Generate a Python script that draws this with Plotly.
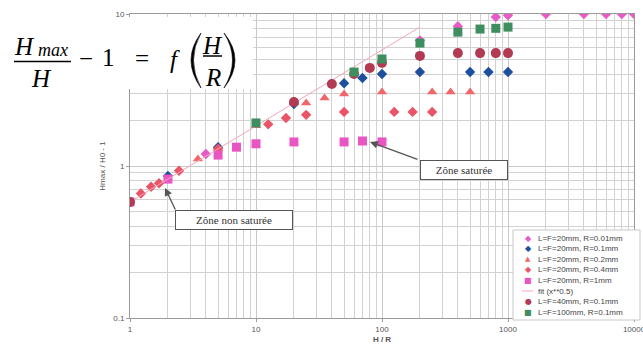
import plotly.graph_objects as go

# ---------------- data ----------------
names = ["L=F=20mm, R=0.01mm", "L=F=20mm, R=0.1mm", "L=F=20mm, R=0.2mm",
         "L=F=20mm, R=0.4mm", "L=F=20mm, R=1mm", "fit (x**0.5)",
         "L=F=40mm, R=0.1mm", "L=F=100mm, R=0.1mm"]

x_r001 = [4, 200, 400, 800, 1000, 2000, 4000, 6000, 8000, 10000]
y_r001 = [1.2, 6.7, 8.3, 9.55, 9.8, 10, 10, 10, 10, 10]

x_r01 = [2, 5, 20, 50, 70, 100, 200, 500, 700, 1000]
y_r01 = [0.86, 1.33, 2.56, 3.5, 3.79, 4.03, 4.15, 4.15, 4.15, 4.15]

x_r02 = [3.46, 5, 10, 25, 35, 50, 100, 250, 350, 500]
y_r02 = [1.11, 1.3, 1.84, 2.6, 2.8, 2.98, 3.07, 3.07, 3.07, 3.07]

x_r04 = [1.22, 1.47, 1.7, 2.45, 5, 12.5, 17.3, 25, 50, 125, 175, 250]
y_r04 = [0.66, 0.73, 0.77, 0.93, 1.3, 1.88, 2.07, 2.17, 2.27, 2.27, 2.27, 2.27]

x_r1 = [1, 2, 5, 7, 10, 20, 50, 70, 100]
y_r1 = [0.58, 0.82, 1.18, 1.33, 1.40, 1.44, 1.44, 1.46, 1.44]

x_fit = [1, 200]
y_fit = [0.58, 8.2]

x_l40 = [1, 20, 40, 60, 80, 100, 200, 400, 600, 800, 1000]
y_l40 = [0.58, 2.64, 3.46, 4.03, 4.42, 4.77, 5.3, 5.53, 5.53, 5.53, 5.53]

x_l100 = [10, 60, 100, 200, 400, 600, 800, 1000]
y_l100 = [1.92, 4.15, 5.06, 6.44, 7.6, 7.96, 8.05, 8.2]

x_tickvals = [1, 10, 100, 1000, 10000]
x_ticktext = ["1", "10", "100", "1000", "10000"]
y_tickvals = [0.1, 1, 10]
y_ticktext = ["0.1", "1", "10"]

colors = ["#e65bc6", "#1d4f9c", "#f0666a", "#ea5468", "#ea55c4", "#f2a7b5",
          "#b23a52", "#3f8e5f"]
symbols = ["diamond", "diamond", "triangle-up", "diamond", "square", None,
           "circle", "square"]
sizes = [8, 8, 9, 8, 9, None, 10, 9]
legend_glyphs = ["\u25C6", "\u25C6", "\u25B2", "\u25C6", "\u25A0", None,
                 "\u25CF", "\u25A0"]

# ---------------- figure ----------------
L, R, T, B = 130, 9, 14, 31
W, H = 643, 349
PW, PH = W - L - R, H - T - B


def P(px, py):
    return (px - L) / PW, (H - B - py) / PH


fig = go.Figure()
series = [(x_r001, y_r001), (x_r01, y_r01), (x_r02, y_r02), (x_r04, y_r04),
          (x_r1, y_r1), (x_fit, y_fit), (x_l40, y_l40), (x_l100, y_l100)]
for i, (xs, ys) in enumerate(series):
    if symbols[i] is None:
        fig.add_trace(go.Scatter(x=xs, y=ys, name=names[i], mode="lines",
                                 line=dict(color=colors[i], width=1),
                                 showlegend=False))
    else:
        fig.add_trace(go.Scatter(x=xs, y=ys, name=names[i], mode="markers",
                                 marker=dict(symbol=symbols[i], color=colors[i],
                                             size=sizes[i], line=dict(width=0)),
                                 showlegend=False))

axis_common = dict(
    type="log", showgrid=True, gridcolor="#c9c9c9", gridwidth=1,
    showline=True, linecolor="#9a9a9a", mirror=True, zeroline=False,
    ticks="outside", ticklen=3, tickcolor="#9a9a9a", ticklabeloverflow="allow",
    tickfont=dict(family="Liberation Sans", size=8, color="#555"),
    minor=dict(dtick="D1", showgrid=True, gridcolor="#d2d2d2", ticks=""),
)

fig.update_xaxes(range=[0, 4], tickvals=x_tickvals, ticktext=x_ticktext,
                 title=dict(text="<b>H / R</b>", standoff=3,
                            font=dict(family="Liberation Sans", size=8, color="#555")),
                 **axis_common)
fig.update_yaxes(range=[-1, 1], tickvals=y_tickvals, ticktext=y_ticktext,
                 title=dict(text="Hmax / H0 - 1", standoff=6,
                            font=dict(family="Liberation Sans", size=8, color="#555")),
                 **axis_common)

shapes = []
ann = []


def pt(px, py):
    x, y = P(px, py)
    return "%.5f,%.5f" % (x, y)


# white box under the formula
x0, y0 = P(0, 17)
x1, y1 = P(253, 89)
shapes.append(dict(type="rect", xref="paper", yref="paper", x0=x0, y0=y1, x1=x1, y1=y0,
                   fillcolor="white", line=dict(width=0), layer="above"))
# fraction bars
for (a, b, yy) in [(14, 71, 61.5), (203, 222, 56)]:
    xa, ya = P(a, yy)
    xb, _ = P(b, yy)
    shapes.append(dict(type="line", xref="paper", yref="paper", x0=xa, y0=ya, x1=xb, y1=ya,
                       line=dict(color="black", width=1.5), layer="above"))
# tall parentheses (crescent paths)
for (xe, xo, xi) in [(201, 181, 186), (224, 246, 241)]:
    path = "M %s Q %s %s Q %s %s Z" % (pt(xe, 33), pt(xo, 60), pt(xe, 88),
                                       pt(xi, 60), pt(xe, 33))
    shapes.append(dict(type="path", xref="paper", yref="paper", path=path,
                       fillcolor="black", line=dict(color="black", width=0.6),
                       layer="above"))


def txt(s, px, py, size, italic=False, family="Liberation Serif"):
    xx, yy = P(px, py)
    ann.append(dict(text=("<i>%s</i>" % s) if italic else s, x=xx, y=yy,
                    xref="paper", yref="paper", showarrow=False,
                    xanchor="center", yanchor="middle",
                    font=dict(family=family, size=size, color="black")))


txt("H", 24, 46, 25, True)
txt("max", 53, 50, 18, True)
txt("H", 41, 78, 25, True)
txt("\u2212", 86, 58, 25)
txt("1", 108, 57, 25)
txt("=", 142, 58, 25)
txt("f", 175, 60, 25, True)
txt("H", 212, 45, 25, True)
txt("R", 213, 77, 25, True)


# callout boxes
def box(s, px, py, w, h):
    xx, yy = P(px, py)
    ann.append(dict(text=s, x=xx, y=yy, xref="paper", yref="paper", showarrow=False,
                    xanchor="center", yanchor="middle", width=w, height=h,
                    bgcolor="white", bordercolor="#555", borderwidth=1, borderpad=1,
                    font=dict(family="Liberation Serif, Times New Roman, serif",
                              size=11, color="#333")))


box("Zône non saturée", 234, 220, 114, 16)
box("Zône saturée", 463.5, 170, 84, 16)


def arrow(hx, hy, tx, ty):
    xx, yy = P(hx, hy)
    ann.append(dict(text="", x=xx, y=yy, xref="paper", yref="paper", showarrow=True,
                    ax=tx - hx, ay=ty - hy, arrowhead=2, arrowsize=1.2, arrowwidth=1.3,
                    arrowcolor="#555", standoff=0, startstandoff=0))


arrow(165, 188, 176, 211)
arrow(370, 142, 419, 160)

# legend (drawn inside the plot, bottom right)
bx0, by0 = P(513, 230)
bx1, by1 = P(640, 320)
shapes.append(dict(type="rect", xref="paper", yref="paper", x0=bx0, y0=by1, x1=bx1, y1=by0,
                   fillcolor="white", line=dict(color="#c8c8c8", width=1), layer="above"))
for i in range(len(names)):
    yy = 238 + 10.6 * i
    if legend_glyphs[i] is None:
        xa, ya = P(522, yy)
        xb, _ = P(533, yy)
        shapes.append(dict(type="line", xref="paper", yref="paper", x0=xa, y0=ya, x1=xb,
                           y1=ya, line=dict(color=colors[i], width=1), layer="above"))
    else:
        gx, gy = P(528, yy)
        ann.append(dict(text=legend_glyphs[i], x=gx, y=gy, xref="paper", yref="paper",
                        showarrow=False, xanchor="center", yanchor="middle",
                        font=dict(family="DejaVu Sans", size=8 if i != 2 else 7,
                                  color=colors[i])))
    tx, ty = P(536, yy)
    ann.append(dict(text=names[i], x=tx, y=ty, xref="paper", yref="paper",
                    showarrow=False, xanchor="left", yanchor="middle",
                    font=dict(family="Liberation Sans", size=8, color="#444")))

fig.update_layout(
    width=W, height=H, margin=dict(l=L, r=R, t=T, b=B, autoexpand=False),
    paper_bgcolor="white", plot_bgcolor="white",
    shapes=shapes, annotations=ann, showlegend=False,
)

fig.write_html("out.html")
